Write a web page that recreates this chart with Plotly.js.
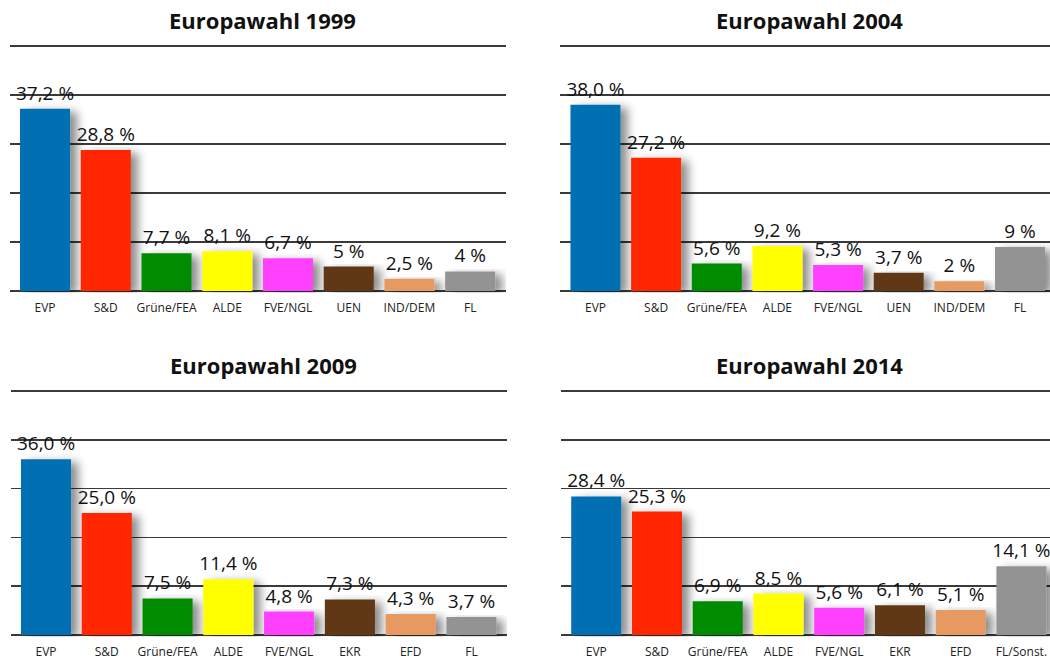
<!DOCTYPE html>
<html>
<head>
<meta charset="utf-8">
<script src="https://cdn.plot.ly/plotly-3.0.1.min.js"></script>
<style>
  html, body { margin: 0; padding: 0; background: #fff; }
  #chart { width: 1050px; height: 659px; }
</style>
</head>
<body>
<div id="chart"></div>
<script>
// ---- Daten ----
const years = ['1999', '2004', '2009', '2014'];

const parties1999 = ['EVP', 'S&D', 'Grüne/FEA', 'ALDE', 'FVE/NGL', 'UEN', 'IND/DEM', 'FL'];
const values1999  = [37.2, 28.8, 7.7, 8.1, 6.7, 5, 2.5, 4];
const labels1999  = ['37,2 %', '28,8 %', '7,7 %', '8,1 %', '6,7 %', '5 %', '2,5 %', '4 %'];

const parties2004 = ['EVP', 'S&D', 'Grüne/FEA', 'ALDE', 'FVE/NGL', 'UEN', 'IND/DEM', 'FL'];
const values2004  = [38.0, 27.2, 5.6, 9.2, 5.3, 3.7, 2, 9];
const labels2004  = ['38,0 %', '27,2 %', '5,6 %', '9,2 %', '5,3 %', '3,7 %', '2 %', '9 %'];

const parties2009 = ['EVP', 'S&D', 'Grüne/FEA', 'ALDE', 'FVE/NGL', 'EKR', 'EFD', 'FL'];
const values2009  = [36.0, 25.0, 7.5, 11.4, 4.8, 7.3, 4.3, 3.7];
const labels2009  = ['36,0 %', '25,0 %', '7,5 %', '11,4 %', '4,8 %', '7,3 %', '4,3 %', '3,7 %'];

const parties2014 = ['EVP', 'S&D', 'Grüne/FEA', 'ALDE', 'FVE/NGL', 'EKR', 'EFD', 'FL/Sonst.'];
const values2014  = [28.4, 25.3, 6.9, 8.5, 5.6, 6.1, 5.1, 14.1];
const labels2014  = ['28,4 %', '25,3 %', '6,9 %', '8,5 %', '5,6 %', '6,1 %', '5,1 %', '14,1 %'];

// Farben je Fraktion (gleiche Reihenfolge in allen Jahren)
const barColors = ['#0070b3', '#ff2600', '#008b00', '#ffff00', '#ff40ff', '#613912', '#e69a62', '#939393'];

// ---- Layout der vier Felder (Pixel -> paper) ----
const W = 1050, H = 659;
const panels = [
  { parties: parties1999, values: values1999, labels: labels1999, x0: 10,  x1: 506,  base: 291, top: 46,  xr: [-0.577, 7.59] },
  { parties: parties2004, values: values2004, labels: labels2004, x0: 560, x1: 1050, base: 291, top: 46,  xr: [-0.585, 7.495] },
  { parties: parties2009, values: values2009, labels: labels2009, x0: 11,  x1: 507,  base: 635, top: 391, xr: [-0.576, 7.585] },
  { parties: parties2014, values: values2014, labels: labels2014, x0: 561, x1: 1050, base: 635, top: 391, xr: [-0.58, 7.47] }
];

const fontFam = '"Open Sans", Lato, sans-serif';
const traces = [];
const layout = {
  width: W, height: H,
  margin: { t: 0, b: 0, l: 0, r: 0 },
  paper_bgcolor: '#fff',
  plot_bgcolor: 'rgba(0,0,0,0)',
  showlegend: false,
  bargap: 0.176,
  font: { family: fontFam, color: '#1a1a1a' },
  annotations: []
};

panels.forEach((p, i) => {
  const n = i === 0 ? '' : String(i + 1);
  traces.push({
    type: 'bar',
    x: p.parties,
    y: p.values,
    text: p.labels,
    textposition: 'outside',
    constraintext: 'none',
    cliponaxis: false,
    textfont: { family: fontFam, size: 19, weight: 500, color: '#111' },
    marker: { color: barColors, line: { width: 0 } },
    hoverinfo: 'skip',
    xaxis: 'x' + n,
    yaxis: 'y' + n
  });

  layout['xaxis' + n] = {
    domain: [p.x0 / W, p.x1 / W],
    anchor: 'y' + n,
    type: 'category',
    range: p.xr,
    showgrid: false,
    zeroline: false,
    ticks: '',
    ticklabelstandoff: 7,
    tickfont: { family: fontFam, size: 12, weight: 500, color: '#222' },
    fixedrange: true
  };
  // y-Achse: 0..50 %, Gitter alle 10 %
  const pxPerUnit = (p.base - p.top) / 50;
  const pad = 0.3;
  layout['yaxis' + n] = {
    domain: [(H - p.base - pad * pxPerUnit) / H, (H - p.top + pad * pxPerUnit) / H],
    anchor: 'x' + n,
    range: [-pad, 50 + pad],
    tickmode: 'linear', tick0: 0, dtick: 10,
    showticklabels: false,
    showgrid: true,
    gridcolor: '#3a3a3a',
    gridwidth: 1.6,
    zeroline: false,
    fixedrange: true
  };

  layout.annotations.push({
    text: '<b>Europawahl ' + years[i] + '</b>',
    xref: 'paper', yref: 'paper',
    x: ((p.x0 + p.x1) / 2 + 4) / W,
    y: (H - (p.top - 26)) / H,
    xanchor: 'center', yanchor: 'middle',
    showarrow: false,
    font: { family: fontFam, size: 22, color: '#111' }
  });
});

Plotly.newPlot('chart', traces, layout, { displayModeBar: false, staticPlot: true }).then(gd => {
  // weicher Schatten hinter den Balken
  const svg = gd.querySelector('.main-svg');
  let defs = svg.querySelector('defs');
  const ns = 'http://www.w3.org/2000/svg';
  const filter = document.createElementNS(ns, 'filter');
  filter.setAttribute('id', 'barShadow');
  filter.setAttribute('x', '-30%'); filter.setAttribute('y', '-10%');
  filter.setAttribute('width', '180%'); filter.setAttribute('height', '130%');
  const ds = document.createElementNS(ns, 'feDropShadow');
  ds.setAttribute('dx', '7'); ds.setAttribute('dy', '3');
  ds.setAttribute('stdDeviation', '5');
  ds.setAttribute('flood-color', '#000'); ds.setAttribute('flood-opacity', '0.45');
  filter.appendChild(ds);
  defs.appendChild(filter);
  gd.querySelectorAll('.bars .point path').forEach(el => el.setAttribute('filter', 'url(#barShadow)'));
});
</script>
</body>
</html>
